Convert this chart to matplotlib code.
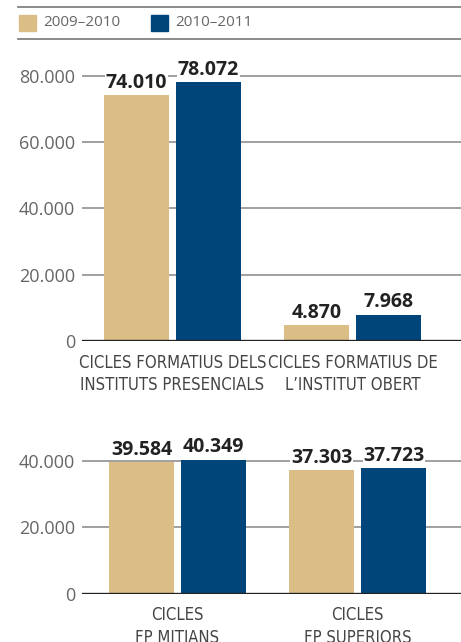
"""
Alumnes de cicles formatius: comparativa 2009-2010 vs 2010-2011.
"""
import matplotlib
matplotlib.use("Agg")
import matplotlib.pyplot as plt
from matplotlib import font_manager as fm
from matplotlib.patches import Rectangle
from matplotlib.lines import Line2D

# ── Dades ────────────────────────────────────────────────────────────────────
SERIES      = ["2009–2010", "2010–2011"]
TOP_CATS    = ["CICLES FORMATIUS DELS\nINSTITUTS PRESENCIALS",
               "CICLES FORMATIUS DE\nL’INSTITUT OBERT"]
TOP_0910    = [74010, 4870]
TOP_1011    = [78072, 7968]
TOP_TICKS   = [0, 20000, 40000, 60000, 80000]

BOT_CATS    = ["CICLES\nFP MITJANS", "CICLES\nFP SUPERIORS"]
BOT_0910    = [39584, 37303]
BOT_1011    = [40349, 37723]
BOT_TICKS   = [0, 20000, 40000]

COLORS      = ["#dbbd86", "#00457a"]
NUM_FONT    = ["Open Sans", "DejaVu Sans"]

# lletra estreta per a les categories, si n'hi ha cap
cand = fm.FontProperties(family="DejaVu Sans", stretch="condensed")
path = fm.findfont(cand, fallback_to_default=True)
if "Condensed" in path:
    CAT_PROPS = dict(family="DejaVu Sans", stretch="condensed", fontsize=12)
elif any("Narrow" in f.name for f in fm.fontManager.ttflist):
    CAT_PROPS = dict(family="Liberation Sans Narrow", fontsize=12.5)
else:
    CAT_PROPS = dict(family="Roboto", fontsize=10.2)


def fmt(v):
    return f"{v:,}".replace(",", ".")


def draw(ax, cats, vals_a, vals_b, ticks, ylim, xlim):
    width = 0.361
    off = 0.2
    xs = range(len(cats))
    for vals, sign, col in ((vals_a, -1, COLORS[0]), (vals_b, 1, COLORS[1])):
        for x, v in zip(xs, vals):
            ax.bar(x + sign * off, v, width=width, color=col, zorder=2)
            ax.annotate(fmt(v), (x + sign * off, v), xytext=(0, 1.5),
                        textcoords="offset points",
                        ha="center", va="bottom", fontsize=14, fontweight="bold",
                        color="#222222", family=NUM_FONT, zorder=3,
                        annotation_clip=False,
                        bbox=dict(facecolor="white", edgecolor="none", pad=0.3))
    ax.set_xlim(*xlim)
    ax.set_ylim(*ylim)
    ax.set_yticks(ticks)
    ax.set_yticklabels([fmt(t) for t in ticks], family=NUM_FONT,
                       fontsize=13, color="#666666")
    ax.set_xticks(list(xs))
    ax.set_xticklabels(cats, color="#444444", linespacing=1.3, **CAT_PROPS)
    ax.tick_params(axis="both", length=0)
    ax.tick_params(axis="y", pad=5)
    ax.tick_params(axis="x", pad=9)
    ax.yaxis.grid(True, color="#999999", linewidth=1.3, zorder=1)
    ax.set_axisbelow(True)
    ax.axhline(0, color="#222222", linewidth=2.4, zorder=4)
    for s in ax.spines.values():
        s.set_visible(False)


fig = plt.figure(figsize=(4.61, 6.42), dpi=100)
W, H = 461, 642

# ── Llegenda ─────────────────────────────────────────────────────────────────
for yy in (7, 39):
    fig.add_artist(Line2D([18 / W, 1], [1 - yy / H, 1 - yy / H],
                          color="#777777", linewidth=1.2))
for x0, col, lab in ((19, COLORS[0], SERIES[0]), (151, COLORS[1], SERIES[1])):
    fig.add_artist(Rectangle((x0 / W, 1 - 31 / H), 17 / W, 16 / H,
                             color=col, transform=fig.transFigure))
    fig.text((x0 + 24) / W, 1 - 23 / H, lab, ha="left", va="center",
             fontsize=11, color="#666666", family=NUM_FONT)

# ── Gràfic superior ──────────────────────────────────────────────────────────
ax1 = fig.add_axes([82 / W, 1 - 341 / H, 1 - 82 / W, 292 / H])
draw(ax1, TOP_CATS, TOP_0910, TOP_1011, TOP_TICKS, (0, 88000), (-0.503, 1.603))

# ── Gràfic inferior ──────────────────────────────────────────────────────────
ax2 = fig.add_axes([82 / W, 1 - 594 / H, 1 - 82 / W, 150 / H])
draw(ax2, BOT_CATS, BOT_0910, BOT_1011, BOT_TICKS, (0, 45000), (-0.531, 1.575))

fig.savefig("out.png", dpi=100)
